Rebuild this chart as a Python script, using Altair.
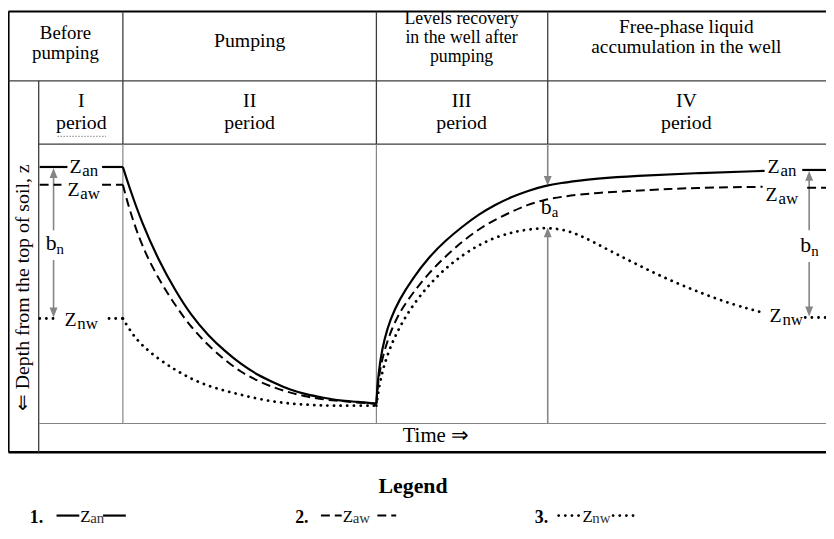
import altair as alt
import pandas as pd

SERIF = "'Liberation Serif', 'Times New Roman', Times, serif"
BLACK = "#000000"
DARK = "#3c3c3c"
GRAY = "#858585"

# ---------------- data ----------------
# time (t) and depth (z) values in picture units; each series is split into
# segments (gaps where the curve labels sit)
z_an = {
    "before_a": ([40, 68], [166, 166]),
    "before_b": ([103, 124], [166, 166]),
    "pumping": ([124, 130, 143, 160, 177, 193, 210, 227, 243, 260, 277, 293, 310, 327, 343, 360, 380],
                [166, 185, 222, 260, 291, 316, 336, 352, 365, 376, 384, 391, 396, 399, 402, 403, 405]),
    "recovery": ([380, 381, 384, 388, 394, 403, 417, 433, 450, 467, 483, 500, 517, 533, 550, 567, 583, 600, 640, 707, 772],
                 [405, 385, 360, 340, 320, 300, 278, 257, 240, 226, 214, 204, 196, 190, 185, 182, 180, 178, 175, 172, 170]),
    "end": ([810, 834], [169, 169]),
    "legend_a": ([57, 80], [518, 518]),
    "legend_b": ([104, 127], [518, 518]),
}
z_aw = {
    "before_a": ([40, 62], [184, 184]),
    "before_b": ([103, 124], [184, 184]),
    "pumping": ([124, 130, 143, 160, 177, 193, 210, 227, 243, 260, 277, 293, 310, 327, 343, 360, 380],
                [184, 207, 246, 279, 306, 328, 346, 361, 373, 382, 389, 394, 398, 401, 402, 404, 405]),
    "recovery": ([380, 381, 384, 389, 396, 405, 417, 433, 450, 467, 483, 500, 517, 533, 550, 567, 600, 660, 700, 770],
                 [405, 390, 368, 348, 328, 310, 293, 273, 256, 241, 229, 219, 211, 204, 199, 196, 192, 189, 187, 186]),
    "end": ([815, 834], [187, 187]),
    "legend_a": ([324, 345], [518, 518]),
    "legend_b": ([381, 400], [518, 518]),
}
z_nw = {
    "before_a": ([40, 58], [319, 319]),
    "before_b": ([110, 124], [319, 319]),
    "pumping": ([124, 133, 143, 160, 177, 193, 210, 227, 243, 260, 277, 293, 310, 327, 343, 380],
                [319, 334, 346, 360, 371, 380, 387, 392, 396, 400, 403, 405, 406, 407, 407, 407]),
    "recovery": ([380, 382, 386, 393, 403, 417, 433, 450, 467, 483, 500, 517, 533, 553, 573, 590, 607, 640, 673, 707, 740, 770],
                 [407, 392, 372, 350, 328, 305, 285, 268, 255, 245, 237, 232, 229, 227, 230, 237, 246, 263, 279, 293, 305, 313]),
    "end": ([813, 834], [318, 318]),
    "legend_a": ([564, 587], [518, 518]),
    "legend_b": ([619, 645], [518, 518]),
}

# header cells (text lines, centre x, baseline y, font size)
header_lines = ["Before", "pumping", "Pumping", "Levels recovery", "in the well after", "pumping",
                "Free-phase liquid", "accumulation in the well",
                "I", "period", "II", "period", "III", "period", "IV", "period"]
header_x = [66, 66, 252, 466, 466, 466, 693, 693, 82, 82, 252, 252, 466, 466, 693, 693]
header_y = [37, 57, 45, 22, 41, 60, 31, 51, 105, 128, 105, 128, 105, 128, 105, 128]
header_size = [19, 19, 20, 18, 18, 18, 19.5, 19.5, 20, 20, 20, 20, 20, 20, 20, 20]

# table / frame lines: x1, y1, x2, y2, colour, width
grid_x1 = [8.5, 8.5, 8.5, 8.5, 39, 39, 124, 124, 380, 380, 553, 39]
grid_y1 = [9, 9, 454, 79, 143, 79, 9, 143, 9, 143, 9, 425]
grid_x2 = [834, 8.5, 834, 834, 834, 39, 124, 124, 380, 380, 553, 834]
grid_y2 = [9, 454, 454, 79, 143, 454, 143, 425, 143, 425, 143, 425]
grid_col = [BLACK, BLACK, BLACK, DARK, DARK, DARK, DARK, GRAY, DARK, GRAY, DARK, GRAY]
grid_w = [2.2, 2.2, 2.6, 1.3, 1.3, 1.3, 1.3, 1.2, 1.3, 1.2, 1.3, 1.2]

# arrow shafts (gray)
arr_x1 = [54, 54, 817, 817, 553, 553]
arr_y1 = [172, 260, 175, 262, 143, 232]
arr_x2 = [54, 54, 817, 817, 553, 553]
arr_y2 = [230, 313, 230, 312, 180, 425]
# arrow heads
head_x = [54, 54, 817, 817, 553, 553]
head_y = [172, 313, 175, 312, 180, 232]
head_dir = ["up", "down", "up", "down", "down", "up"]

# curve labels: main letter and subscript
lab_main = ["Z", "Z", "Z", "Z", "Z", "Z"]
lab_sub = ["an", "aw", "nw", "an", "aw", "nw"]
lab_x = [70, 68, 65, 775, 773, 777]
lab_y = [172, 195, 327, 172, 200, 323]

b_sub = ["n", "n", "a"]
b_x = [46, 808, 546]
b_y = [250, 252, 213]

legend_nums = ["1.", "2.", "3."]
legend_num_x = [30, 298, 540]
legend_lab_x = [81, 346, 588]
legend_sub = ["an", "aw", "nw"]

# ---------------- build tables ----------------
def series_df(d):
    rows = []
    for seg, (ts, zs) in d.items():
        for t, z in zip(ts, zs):
            rows.append({"x": t, "y": z, "seg": seg})
    return pd.DataFrame(rows)

XS = alt.Scale(domain=[8, 834], nice=False, zero=False)
YS = alt.Scale(domain=[8, 527], nice=False, zero=False, reverse=True)

def X(f="x"):
    return alt.X(f"{f}:Q", scale=XS, axis=None)

def Y(f="y"):
    return alt.Y(f"{f}:Q", scale=YS, axis=None)

grid_df = pd.DataFrame({"x": grid_x1, "y": grid_y1, "x2": grid_x2, "y2": grid_y2,
                        "c": grid_col, "w": grid_w})
grid = alt.Chart(grid_df).mark_rule().encode(
    x=X(), y=Y(), x2="x2:Q", y2="y2:Q",
    color=alt.Color("c:N", scale=None), strokeWidth=alt.StrokeWidth("w:Q", scale=None))

# spell-check style wavy underline under the first "period"
squiggle = alt.Chart(pd.DataFrame({"x": [58], "x2": [107], "y": [135]})).mark_rule(
    color="#9a9a9a", strokeWidth=1.2, strokeDash=[1.5, 1.5]).encode(x=X(), x2="x2:Q", y=Y())

arr_df = pd.DataFrame({"x": arr_x1, "y": arr_y1, "x2": arr_x2, "y2": arr_y2})
arrows = alt.Chart(arr_df).mark_rule(color=GRAY, strokeWidth=1.6).encode(
    x=X(), y=Y(), x2="x2:Q", y2="y2:Q")

head_df = pd.DataFrame({"x": head_x, "y": head_y, "d": head_dir})
heads_up = alt.Chart(head_df[head_df.d == "up"]).mark_point(
    shape="M0,-1L0.8,1L-0.8,1Z", filled=True, color=GRAY, opacity=1, size=100, strokeWidth=0
).encode(x=X(), y=Y())
heads_down = alt.Chart(head_df[head_df.d == "down"]).mark_point(
    shape="M0,1L0.8,-1L-0.8,-1Z", filled=True, color=GRAY, opacity=1, size=100, strokeWidth=0
).encode(x=X(), y=Y())

line_an = alt.Chart(series_df(z_an)).mark_line(
    color=BLACK, strokeWidth=2.2, interpolate="basis").encode(x=X(), y=Y(), detail="seg:N")
line_aw = alt.Chart(series_df(z_aw)).mark_line(
    color=BLACK, strokeWidth=2.0, strokeDash=[9, 5], interpolate="basis").encode(x=X(), y=Y(), detail="seg:N")
line_nw = alt.Chart(series_df(z_nw)).mark_line(
    color=BLACK, strokeWidth=2.8, strokeDash=[0.1, 6.6], strokeCap="round",
    interpolate="basis").encode(x=X(), y=Y(), detail="seg:N")

head_txt_df = pd.DataFrame({"x": header_x, "y": header_y, "t": header_lines, "s": header_size})
head_txt = alt.Chart(head_txt_df).mark_text(
    font=SERIF, align="center", baseline="alphabetic", color=BLACK).encode(
    x=X(), y=Y(), text="t:N", size=alt.Size("s:Q", scale=None))

lab_df = pd.DataFrame({"x": lab_x, "y": lab_y, "m": lab_main, "s": lab_sub})
lab_df["xs"] = lab_df["x"] + 13
lab_df["ys"] = lab_df["y"] + 3
lab_main_c = alt.Chart(lab_df).mark_text(
    font=SERIF, fontSize=20, align="left", baseline="alphabetic", color=BLACK).encode(
    x=X(), y=Y(), text="m:N")
lab_sub_c = alt.Chart(lab_df).mark_text(
    font=SERIF, fontSize=17, align="left", baseline="alphabetic", color=BLACK).encode(
    x=X("xs"), y=Y("ys"), text="s:N")

b_df = pd.DataFrame({"x": b_x, "y": b_y, "s": b_sub})
b_df["b"] = "b"
b_df["xs"] = b_df["x"] + 11
b_df["ys"] = b_df["y"] + 4
b_main = alt.Chart(b_df).mark_text(
    font=SERIF, fontSize=22, align="left", baseline="alphabetic", color=BLACK).encode(
    x=X(), y=Y(), text="b:N")
b_subc = alt.Chart(b_df).mark_text(
    font=SERIF, fontSize=15, align="left", baseline="alphabetic", color=BLACK).encode(
    x=X("xs"), y=Y("ys"), text="s:N")

ylab = alt.Chart(pd.DataFrame({"x": [23], "y": [288], "t": ["\u21d0 Depth from the top of soil, z"]})).mark_text(
    font=SERIF, fontSize=20, angle=270, align="center", baseline="middle", color=BLACK).encode(
    x=X(), y=Y(), text="t:N")

xlab = alt.Chart(pd.DataFrame({"x": [440], "y": [444], "t": ["Time \u21d2"]})).mark_text(
    font=SERIF, fontSize=21, align="center", baseline="alphabetic", color=BLACK).encode(
    x=X(), y=Y(), text="t:N")

leg_title = alt.Chart(pd.DataFrame({"x": [417], "y": [495], "t": ["Legend"]})).mark_text(
    font=SERIF, fontSize=22, fontWeight="bold", align="center", baseline="alphabetic", color=BLACK).encode(
    x=X(), y=Y(), text="t:N")

leg_num_df = pd.DataFrame({"x": legend_num_x, "y": [525] * 3, "t": legend_nums})
leg_num = alt.Chart(leg_num_df).mark_text(
    font=SERIF, fontSize=18, fontWeight="bold", align="left", baseline="alphabetic", color=BLACK).encode(
    x=X(), y=Y(), text="t:N")

leg_lab_df = pd.DataFrame({"x": legend_lab_x, "y": [524] * 3, "s": legend_sub})
leg_lab_df["m"] = "Z"
leg_lab_df["xs"] = leg_lab_df["x"] + 10
leg_lab_df["ys"] = leg_lab_df["y"] + 2
leg_main = alt.Chart(leg_lab_df).mark_text(
    font=SERIF, fontSize=17, align="left", baseline="alphabetic", color=BLACK).encode(
    x=X(), y=Y(), text="m:N")
leg_sub = alt.Chart(leg_lab_df).mark_text(
    font=SERIF, fontSize=15, align="left", baseline="alphabetic", color="#333333").encode(
    x=X("xs"), y=Y("ys"), text="s:N")

chart = alt.layer(
    grid, squiggle, arrows, heads_up, heads_down, line_an, line_aw, line_nw,
    head_txt, lab_main_c, lab_sub_c, b_main, b_subc, ylab, xlab,
    leg_title, leg_num, leg_main, leg_sub
).properties(width=826, height=519, padding=0, autosize="none").configure_view(stroke=None)

chart.save("out.html", embed_options={"renderer": "svg", "actions": False})
